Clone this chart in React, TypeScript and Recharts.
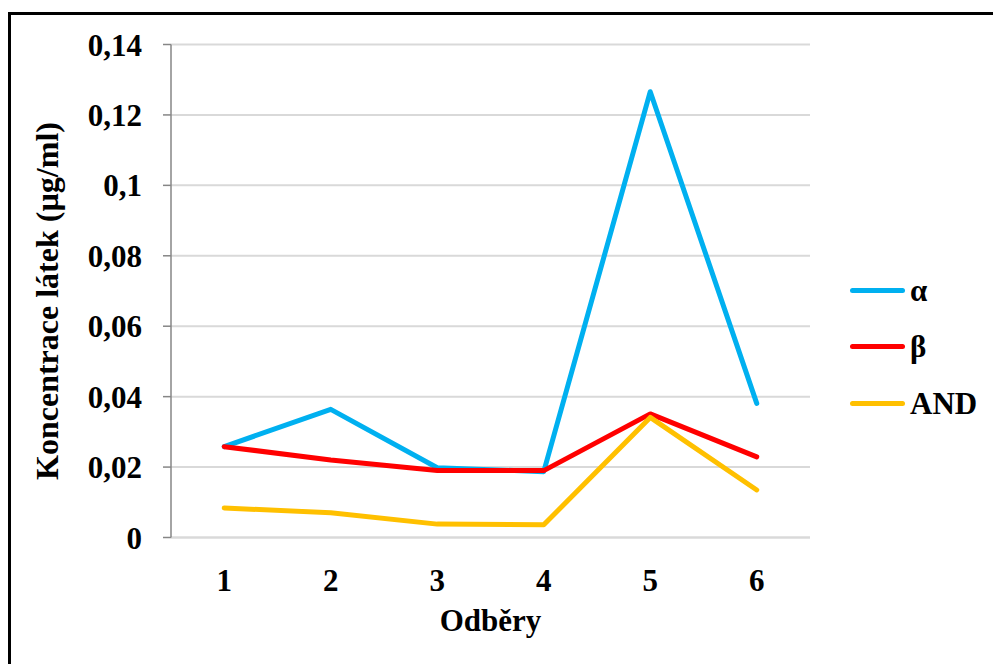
import React from 'react';
import { LineChart, Line, XAxis, YAxis, CartesianGrid, Label } from 'recharts';

// Sampling rounds
const categories = ['1', '2', '3', '4', '5', '6'];

// Concentrations (µg/ml) per substance
const alphaValues = [0.0258, 0.0364, 0.0198, 0.0187, 0.1266, 0.0381];
const betaValues = [0.0258, 0.022, 0.019, 0.019, 0.0351, 0.0229];
const andValues = [0.0084, 0.007, 0.0038, 0.0036, 0.0341, 0.0135];

const yTicks = [0, 0.02, 0.04, 0.06, 0.08, 0.1, 0.12, 0.14];

const seriesNames = ['α', 'β', 'AND'];
const seriesColors = ['#00B0F0', '#FF0000', '#FFC000'];

const data = categories.map((c, i) => ({
  name: c,
  alpha: alphaValues[i],
  beta: betaValues[i],
  and: andValues[i],
}));

const FONT = 'Liberation Serif, Tinos, Times New Roman, Times, DejaVu Serif, serif';
const FS = 31;

const fmt = (v: number) => String(v).replace('.', ',');

const LegendBox = () => (
  <div style={{ position: 'absolute', left: 850, top: 262 }}>
    {seriesNames.map((n, i) => (
      <div key={n} style={{ display: 'flex', alignItems: 'center', height: 56.5 }}>
        <div style={{ width: 55, height: 5, borderRadius: 3, background: seriesColors[i] }} />
        <span style={{ marginLeft: 5, fontFamily: FONT, fontWeight: 'bold', fontSize: FS, color: '#000', lineHeight: 1 }}>{n}</span>
      </div>
    ))}
  </div>
);

const YTitle = (props: any) => {
  const vb = props.viewBox;
  const cx = vb.x + vb.width - 124;
  const cy = vb.y + vb.height / 2 + 10;
  return (
    <text x={cx} y={cy} transform={`rotate(-90 ${cx} ${cy})`} textAnchor="middle" dominantBaseline="central"
      fontFamily={FONT} fontWeight="bold" fontSize={32} fill="#000">
      Koncentrace látek (µg/ml)
    </text>
  );
};

const XTitle = (props: any) => {
  const vb = props.viewBox;
  const cx = vb.x + vb.width / 2;
  return (
    <text x={cx} y={vb.y + 83} textAnchor="middle" dominantBaseline="central"
      fontFamily={FONT} fontWeight="bold" fontSize={FS} fill="#000">
      Odběry
    </text>
  );
};

export default function App() {
  return (
    <div style={{ position: 'fixed', left: 0, top: 0, width: 993, height: 664, overflow: 'hidden', background: '#fff' }}>
      <div style={{ position: 'absolute', left: 8, top: 12, width: 1100, height: 800, border: '3px solid #000' }} />
      <div style={{ position: 'absolute', left: 0, top: 0 }}>
        <LineChart width={993} height={664} data={data} margin={{ top: 44.5, right: 183, bottom: 86.5, left: 0 }}>
          <CartesianGrid horizontal vertical={false} stroke="#d9d9d9" strokeWidth={2} />
          <XAxis dataKey="name" height={40} axisLine={{ stroke: '#d9d9d9', strokeWidth: 2 }} tickLine={false}
            tickSize={0} tickMargin={31} interval={0} padding={{ left: 53.25, right: 53.25 }}
            tick={{ fontFamily: FONT, fontWeight: 'bold', fontSize: FS, fill: '#000' }}>
            <Label content={<XTitle />} />
          </XAxis>
          <YAxis width={171} domain={[0, 0.14]} ticks={yTicks} tickFormatter={fmt} interval={0}
            axisLine={{ stroke: '#868686', strokeWidth: 1.5 }} tickLine={{ stroke: '#868686', strokeWidth: 1.5 }}
            tickSize={8} tickMargin={21}
            tick={{ fontFamily: FONT, fontWeight: 'bold', fontSize: FS, fill: '#000' }}>
            <Label content={<YTitle />} />
          </YAxis>
          <Line dataKey="alpha" name="α" stroke={seriesColors[0]} strokeWidth={5} dot={false}
            strokeLinecap="round" strokeLinejoin="round" isAnimationActive={false} />
          <Line dataKey="beta" name="β" stroke={seriesColors[1]} strokeWidth={5} dot={false}
            strokeLinecap="round" strokeLinejoin="round" isAnimationActive={false} />
          <Line dataKey="and" name="AND" stroke={seriesColors[2]} strokeWidth={5} dot={false}
            strokeLinecap="round" strokeLinejoin="round" isAnimationActive={false} />
        </LineChart>
      </div>
      <LegendBox />
    </div>
  );
}
